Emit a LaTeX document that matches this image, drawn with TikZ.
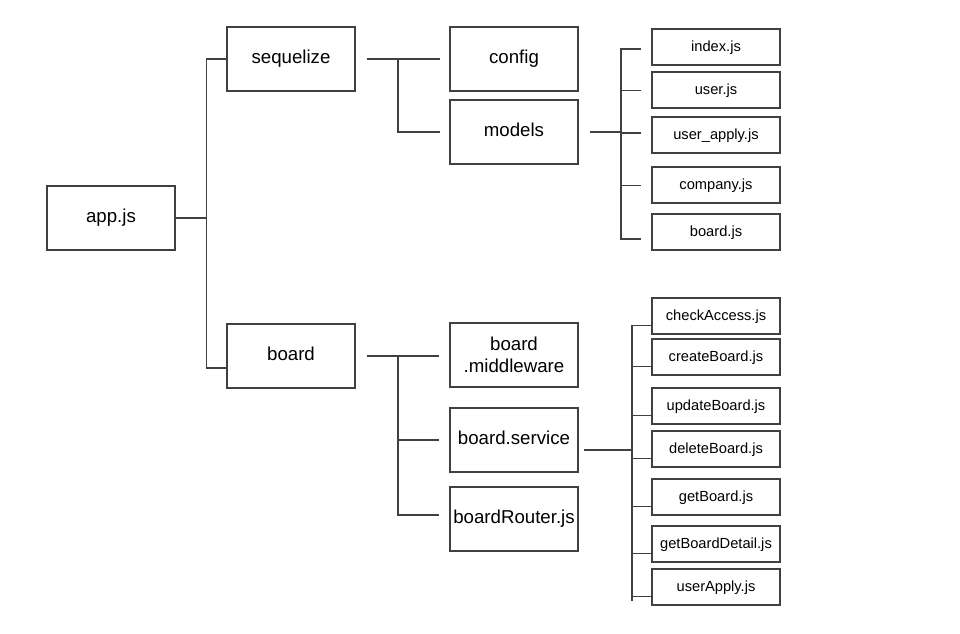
\documentclass[tikz,border=0pt]{standalone}
\usepackage{fontspec}
\setmainfont{Liberation Sans}
\usetikzlibrary{positioning}

\definecolor{linegray}{HTML}{404040}
\tikzset{
  boxbase/.style={draw=linegray,line width=1pt,minimum width=96pt,inner sep=1pt,align=center},
  bigbox/.style={boxbase,minimum height=48pt,font=\fontsize{14}{16.5}\selectfont},
  bigone/.style={bigbox,text height=0.9em,text depth=0.18em},
  filebox/.style={boxbase,minimum height=27pt,font=\fontsize{11}{13}\selectfont,text height=0.9em,text depth=0.18em},
  link/.style={draw=linegray,line width=1pt}
}

\begin{document}
\begin{tikzpicture}[x=0.75pt,y=-0.75pt]
\useasboundingbox (0,0) rectangle (960,633);

\node[bigone] (app) at (111,218) {app.js};
\node[bigone] (seq) at (291,59) {sequelize};
\node[bigone] (brd) at (291,356) {board};

\node[bigone] (cfg) at (514,59) {config};
\node[bigone] (mdl) at (514,132) {models};
\node[bigbox] (mid) at (514,355) {board\\.middleware};
\node[bigone] (svc) at (514,440) {board.service};
\node[bigone] (rtr) at (514,519) {boardRouter.js};

% models files
\node[filebox] (idx) at (716,47) {index.js};
\node[filebox] (usr) at (716,90) {user.js};
\node[filebox] (uap) at (716,135) {user\_apply.js};
\node[filebox] (cmp) at (716,185) {company.js};
\node[filebox] (bjs) at (716,232) {board.js};

% service files
\node[filebox] (chk) at (716,316) {checkAccess.js};
\node[filebox] (crt) at (716,357) {createBoard.js};
\node[filebox] (upd) at (716,406) {updateBoard.js};
\node[filebox] (del) at (716,449) {deleteBoard.js};
\node[filebox] (get) at (716,497) {getBoard.js};
\node[filebox] (gbd) at (716,544) {getBoardDetail.js};
\node[filebox] (uaj) at (716,587) {userApply.js};

% app.js tree
\draw[link] (app.east) -- ++(31,0) |- (seq.west);
\draw[link] (app.east) -- ++(31,0) |- ([yshift=-9pt]brd.west);

% sequelize tree
\coordinate (sqj) at (398,59);
\draw[link] ([xshift=8.25pt]seq.east) -- ([xshift=-6.75pt]cfg.west);
\draw[link] (sqj) |- ([xshift=-6.75pt]mdl.west);

% models tree
\coordinate (mdj) at (621,132);
\draw[link] ([xshift=8.25pt]mdl.east) -- (mdj);
\foreach \f/\dy in {idx/-1.5pt,usr/-0.5pt,uap/1.5pt,cmp/-0.5pt,bjs/-5.25pt}
  \draw[link] (mdj) |- ([xshift=-7.5pt,yshift=\dy]\f.west);

% board tree
\coordinate (brj) at (398,356);
\draw[link] ([xshift=8.25pt]brd.east) -- ([xshift=-7.5pt]brd.east -| mid.west);
\draw[link] (brj) |- ([xshift=-7.5pt]svc.west);
\draw[link] (brj) |- ([xshift=-7.5pt,yshift=3pt]rtr.west);

% service tree
\coordinate (svj) at (632,450);
\draw[link] ([xshift=3.75pt,yshift=-7.5pt]svc.east) -- (svj);
\foreach \f in {chk,crt,upd,del,get,gbd,uaj}
  \draw[link] (svj) |- ([yshift=-7pt]\f.west);
\draw[link] (svj) -- (632,601);

\end{tikzpicture}
\end{document}
